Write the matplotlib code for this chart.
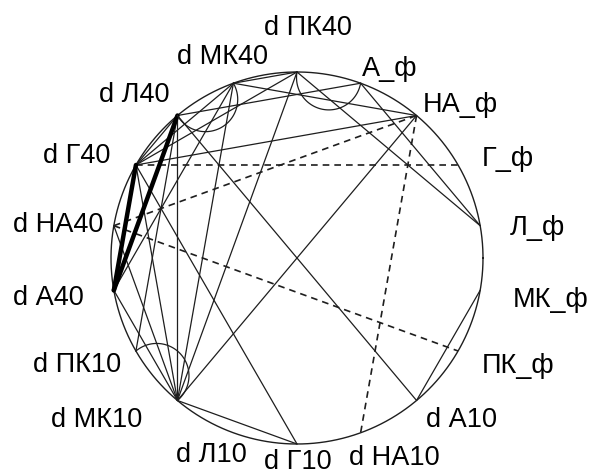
import numpy as np
import matplotlib
matplotlib.use("Agg")
import matplotlib.pyplot as plt

# Variables placed clockwise around the pleiad, starting at the top
nodes = ["d ПК40", "А_ф", "НА_ф", "Г_ф", "Л_ф", "МК_ф", "ПК_ф",
         "d А10", "d НА10", "d Г10", "d Л10", "d МК10", "d ПК10",
         "d А40", "d НА40", "d Г40", "d Л40", "d МК40"]

# Strong correlations (bold lines)
strong_links = [("d Л40", "d А40"), ("d Г40", "d А40")]

# Moderate positive correlations (thin solid lines)
links = [
    ("d МК40", "НА_ф"), ("d Г40", "НА_ф"), ("d ПК40", "Л_ф"), ("А_ф", "Л_ф"),
    ("НА_ф", "d МК10"), ("d Л40", "d А10"), ("d А10", "МК_ф"),
    ("d МК10", "d Г10"), ("d Г40", "d Г10"), ("d Л40", "d МК10"),
    ("d МК40", "d МК10"), ("d ПК40", "d МК10"), ("d Г40", "d МК10"),
    ("d НА40", "d МК10"), ("d А40", "d МК10"), ("d ПК40", "d Г40"),
    ("d Г40", "d МК40"), ("d Л40", "d Г40"), ("d А40", "d МК40"),
    ("d ПК10", "d Л40"), ("d Л40", "А_ф"), ("d МК40", "d ПК40"),
]

# Negative correlations (dashed lines)
negative_links = [("d Г40", "Г_ф"), ("d НА40", "НА_ф"),
                  ("d НА40", "ПК_ф"), ("НА_ф", "d НА10")]

# Correlations between neighbouring variables (drawn as inner half-circles)
neighbour_links = [("d Л40", "d МК40"), ("d ПК40", "А_ф"), ("d ПК10", "d МК10")]

# Label placement relative to each node: (dx, dy) of text centre / baseline
label_offsets = [(11, -37), (29, -7), (44, -4), (50, 1), (57, 9), (70, 17),
                 (60, 22), (45, 27), (34, 32), (1, 25), (-22, 29), (-81, 27),
                 (-59, 21), (-65, 15), (-56, 6), (-59, -2), (-43, -14),
                 (-11, -19)]

W, H = 590, 475
CX, CY, R = 297, 258, 186

fig = plt.figure(figsize=(W / 100, H / 100), dpi=100)
ax = fig.add_axes([0, 0, 1, 1])
ax.set_xlim(0, W)
ax.set_ylim(H, 0)
ax.axis("off")

n = len(nodes)
ang = np.deg2rad(90 - 360 / n * np.arange(n))
pos = {name: (CX + R * np.cos(a), CY - R * np.sin(a)) for name, a in zip(nodes, ang)}

ink = "#1e1e1e"

# Outer circle
t = np.linspace(0, 2 * np.pi, 400)
ax.plot(CX + R * np.cos(t), CY + R * np.sin(t), color=ink, lw=1.0)


def seg(a, b, **kw):
    (x1, y1), (x2, y2) = pos[a], pos[b]
    ax.plot([x1, x2], [y1, y2], solid_capstyle="round", **kw)


for a, b in links:
    seg(a, b, color=ink, lw=0.9)

for a, b in negative_links:
    seg(a, b, color=ink, lw=1.2, linestyle=(0, (4, 3)))

for a, b in strong_links:
    seg(a, b, color="black", lw=3.2)

# Half-circles bulging towards the centre
for a, b in neighbour_links:
    (x1, y1), (x2, y2) = pos[a], pos[b]
    mx, my = (x1 + x2) / 2, (y1 + y2) / 2
    r = np.hypot(x2 - x1, y2 - y1) / 2
    base = np.arctan2(y1 - my, x1 - mx)
    ux, uy = CX - mx, CY - my
    # choose the sweep direction that goes toward the centre
    mid_a = base + np.pi / 2
    if np.cos(mid_a) * ux + np.sin(mid_a) * uy < 0:
        sweep = np.linspace(base, base - np.pi, 60)
    else:
        sweep = np.linspace(base, base + np.pi, 60)
    ax.plot(mx + r * np.cos(sweep), my + r * np.sin(sweep), color=ink, lw=0.9)

for name, (dx, dy) in zip(nodes, label_offsets):
    x, y = pos[name]
    ax.text(x + dx, y + dy, name, ha="center", va="baseline",
            fontsize=19.5, family=["Liberation Sans", "DejaVu Sans"], color="black")

fig.savefig("out.png", dpi=100)
